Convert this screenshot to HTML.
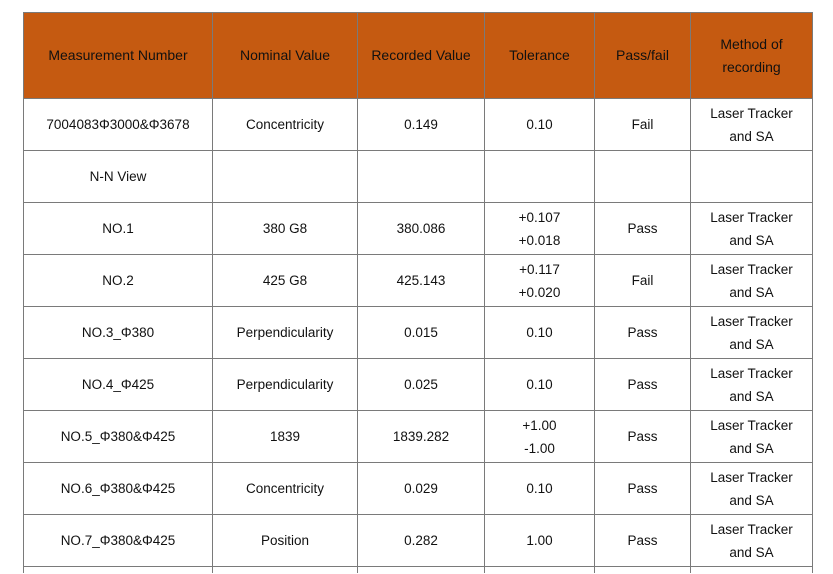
<!DOCTYPE html>
<html style="width:833px;height:574px;overflow:hidden;margin:0"><head><meta charset="utf-8"><style>
body{margin:0;background:#fff;width:833px;height:574px;overflow:hidden;position:relative;font-family:"Liberation Sans",sans-serif;}
table{position:absolute;left:23px;top:12px;border-collapse:collapse;table-layout:fixed;}
td{border:1px solid #7a7a7a;text-align:center;vertical-align:middle;font-size:13.5px;color:#111;line-height:23px;padding:0;height:51px;}
tr.h td{background:#C55A11;height:85px;font-size:14px;}
tr.last td{height:6px;line-height:6px;border-bottom:none;}
</style></head><body>
<table>
<colgroup><col style="width:189px"><col style="width:145px"><col style="width:127px"><col style="width:110px"><col style="width:96px"><col style="width:122px"></colgroup>
<tr class="h"><td>Measurement Number</td><td>Nominal Value</td><td>Recorded Value</td><td>Tolerance</td><td>Pass/fail</td><td>Method of<br>recording</td></tr>
<tr><td>7004083Φ3000&amp;Φ3678</td><td>Concentricity</td><td>0.149</td><td>0.10</td><td>Fail</td><td>Laser Tracker<br>and SA</td></tr>
<tr><td>N-N View</td><td></td><td></td><td></td><td></td><td></td></tr>
<tr><td>NO.1</td><td>380 G8</td><td>380.086</td><td>+0.107<br>+0.018</td><td>Pass</td><td>Laser Tracker<br>and SA</td></tr>
<tr><td>NO.2</td><td>425 G8</td><td>425.143</td><td>+0.117<br>+0.020</td><td>Fail</td><td>Laser Tracker<br>and SA</td></tr>
<tr><td>NO.3_Φ380</td><td>Perpendicularity</td><td>0.015</td><td>0.10</td><td>Pass</td><td>Laser Tracker<br>and SA</td></tr>
<tr><td>NO.4_Φ425</td><td>Perpendicularity</td><td>0.025</td><td>0.10</td><td>Pass</td><td>Laser Tracker<br>and SA</td></tr>
<tr><td>NO.5_Φ380&amp;Φ425</td><td>1839</td><td>1839.282</td><td>+1.00<br>-1.00</td><td>Pass</td><td>Laser Tracker<br>and SA</td></tr>
<tr><td>NO.6_Φ380&amp;Φ425</td><td>Concentricity</td><td>0.029</td><td>0.10</td><td>Pass</td><td>Laser Tracker<br>and SA</td></tr>
<tr><td>NO.7_Φ380&amp;Φ425</td><td>Position</td><td>0.282</td><td>1.00</td><td>Pass</td><td>Laser Tracker<br>and SA</td></tr>
<tr class="last"><td></td><td></td><td></td><td></td><td></td><td></td></tr>
</table>
</body></html>
